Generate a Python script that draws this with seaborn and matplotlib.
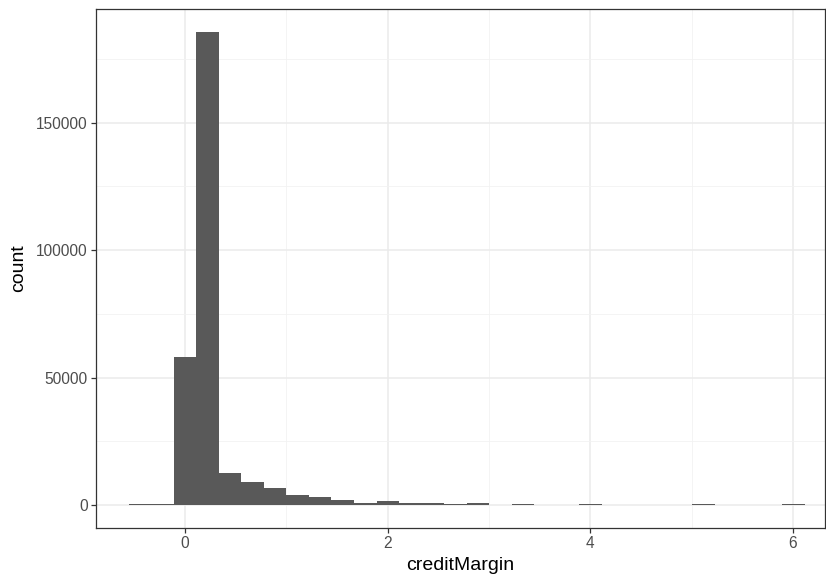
import numpy as np
import pandas as pd
import seaborn as sns
import matplotlib.pyplot as plt
from matplotlib.ticker import MultipleLocator

# ------------------------------------------------------------------------------- #
# Histogram counts (30 bins, centred on multiples of binwidth)
binwidth = 0.2224
bin_index = list(range(-2, 28))
bin_counts = [200, 500, 58000, 185500, 12700, 8900, 6500, 3900, 3000, 1800,
              900, 1600, 800, 700, 300, 700, 50, 300, 100, 100,
              400, 20, 20, 50, 50, 250, 100, 30, 30, 350]

x_ticks = [0, 2, 4, 6]
y_ticks = [0, 50000, 100000, 150000]

df = pd.DataFrame({'creditMargin': np.array(bin_index) * binwidth,
                   'n': bin_counts})
lo = (bin_index[0] - 0.5) * binwidth
hi = (bin_index[-1] + 0.5) * binwidth

# ------------------------------------------------------------------------------- #
sns.set_style('white')
plt.rcParams['font.family'] = ['Liberation Sans', 'DejaVu Sans']

fig = plt.figure(figsize=(8.26, 5.79), dpi=100)
ax = fig.add_axes([0.1162, 0.0881, 0.8826, 0.8964])

_ = sns.histplot(data=df, x='creditMargin', weights='n', binwidth=binwidth,
                 binrange=(lo, hi), color='#595959', alpha=1,
                 edgecolor='none', linewidth=0, ax=ax)

ax.set_xlim(-0.878, 6.316)
ax.set_ylim(-9025, 194630)
ax.set_xticks(x_ticks)
ax.set_yticks(y_ticks)
ax.xaxis.set_minor_locator(MultipleLocator(1))
ax.yaxis.set_minor_locator(MultipleLocator(25000))

ax.set_axisbelow(True)
ax.grid(which='major', color='#EBEBEB', linewidth=1.1)
ax.grid(which='minor', color='#F2F2F2', linewidth=0.6)

for s in ax.spines.values():
    s.set_color('#333333')
    s.set_linewidth(0.9)

ax.tick_params(which='major', direction='out', length=3.6, width=0.9,
               color='#333333', labelcolor='#4D4D4D', labelsize=11.2, pad=2.5,
               bottom=True, left=True)
ax.tick_params(which='minor', length=0)

_ = ax.set_xlabel('creditMargin', fontsize=14, color='black', labelpad=4)
_ = ax.set_ylabel('count', fontsize=14, color='black', labelpad=6)

fig.savefig('out.png', dpi=100)
